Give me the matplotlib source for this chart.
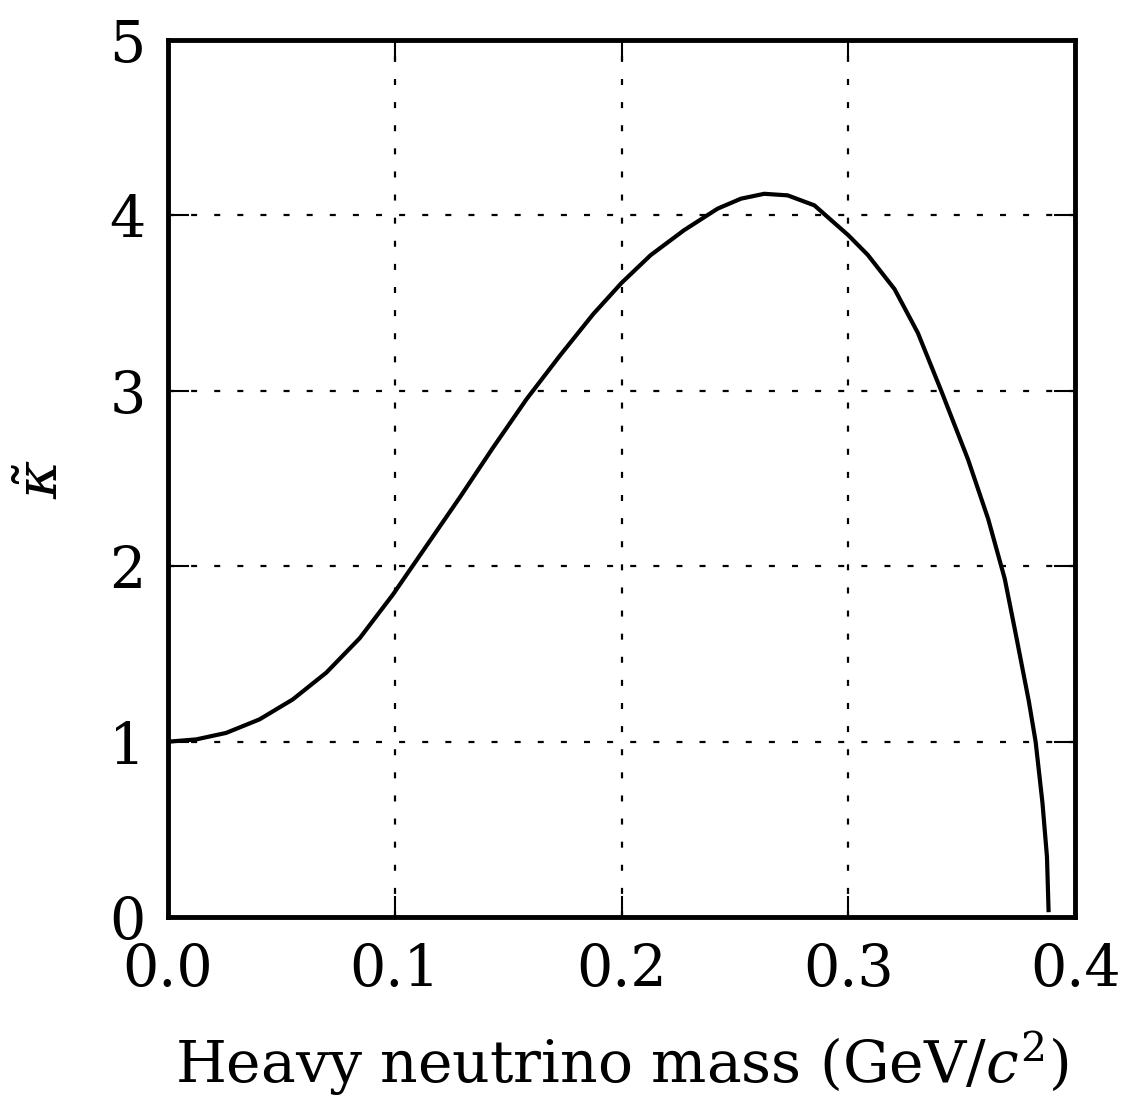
import numpy as np
import matplotlib
matplotlib.use('Agg')
import matplotlib.pyplot as plt

plt.rcParams['font.family'] = ['DejaVu Serif']
plt.rcParams['mathtext.fontset'] = 'dejavuserif'

# 曲线数据
mass = [0.0, 0.0125, 0.0257, 0.0404, 0.0551, 0.0699, 0.0846, 0.0993, 0.114,
        0.1287, 0.1434, 0.1581, 0.1728, 0.1875, 0.2, 0.2128, 0.2275, 0.2423,
        0.2526, 0.2629, 0.2732, 0.285, 0.3, 0.3085, 0.3203, 0.3306, 0.3409,
        0.3527, 0.3616, 0.3689, 0.3736, 0.3795, 0.3825, 0.3855, 0.3875, 0.3882]
kappa = [1.0, 1.013, 1.05, 1.127, 1.241, 1.394, 1.590, 1.840, 2.116,
         2.392, 2.677, 2.952, 3.200, 3.437, 3.615, 3.773, 3.915, 4.038,
         4.095, 4.123, 4.114, 4.057, 3.886, 3.775, 3.580, 3.33, 3.0,
         2.609, 2.269, 1.928, 1.623, 1.231, 1.0, 0.653, 0.344, 0.04]

xticks = [0.0, 0.1, 0.2, 0.3, 0.4]
yticks = [0, 1, 2, 3, 4, 5]

fig = plt.figure(figsize=(11.26, 11.09), dpi=100)
ax = fig.add_axes([0.149, 0.173, 0.806, 0.791])

ax.plot(mass, kappa, color='black', lw=3, solid_joinstyle='round')

ax.set_xlim(0, 0.4)
ax.set_ylim(0, 5)
ax.set_xticks(xticks)
ax.set_xticklabels([f'{t:.1f}' for t in xticks])
ax.set_yticks(yticks)
ax.grid(True, linestyle=(0, (2.7, 7.7)), color='black', linewidth=1.6)

for s in ax.spines.values():
    s.set_linewidth(3.5)
ax.tick_params(direction='in', length=15, width=1.5, labelsize=41,
               top=True, right=True)
ax.tick_params(axis='x', pad=18)
ax.tick_params(axis='y', pad=16)

ax.set_xlabel('Heavy neutrino mass (GeV/$c^2$)', fontsize=42, labelpad=22)
ax.set_ylabel(r'$\tilde{\kappa}$', fontsize=42, labelpad=28)

plt.savefig('out.png', dpi=100)
